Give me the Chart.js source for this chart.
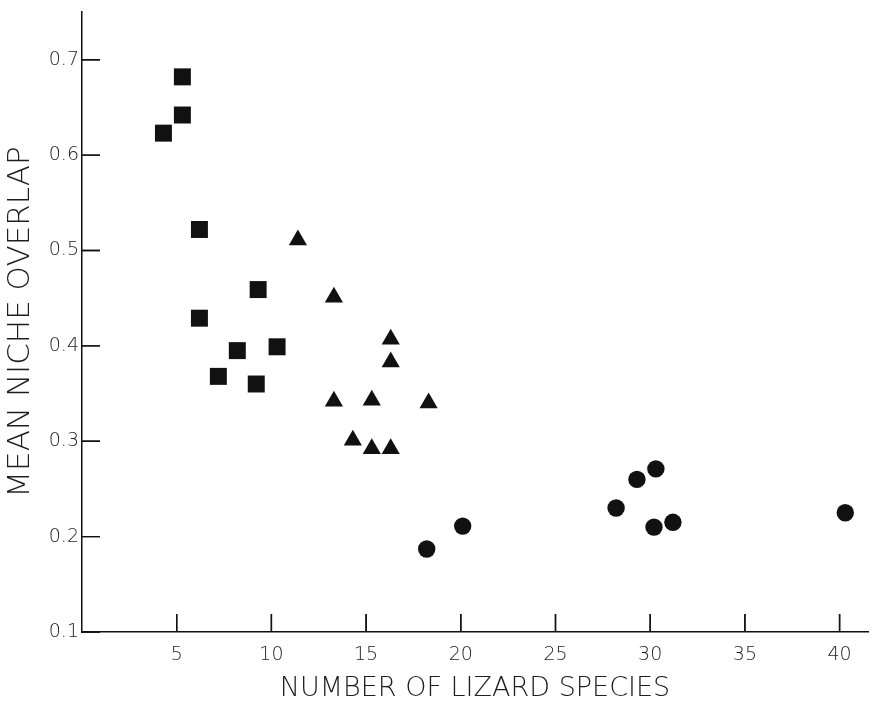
<!DOCTYPE html>
<html>
<head>
<meta charset="utf-8">
<title>Mean niche overlap vs number of lizard species</title>
<script src="https://cdn.jsdelivr.net/npm/chart.js@4.4.1/dist/chart.umd.min.js"></script>
<style>
	body { margin: 0; background: #fff; }
	#wrap { position: relative; width: 880px; height: 706px; }
	#tickLayer { position: absolute; left: 0; top: 0; pointer-events: none; }
</style>
</head>
<body>
<div id="wrap">
	<canvas id="overlapChart" width="880" height="706"></canvas>
	<canvas id="tickLayer" width="880" height="706"></canvas>
</div>
<script>
// squares
var squareX = [5.3, 5.3, 4.3, 6.2, 9.3, 6.2, 8.2, 10.3, 7.2, 9.2];
var squareY = [0.682, 0.642, 0.623, 0.522, 0.459, 0.429, 0.395, 0.399, 0.368, 0.360];
// triangles
var triangleX = [11.4, 13.3, 16.3, 16.3, 13.3, 15.3, 18.3, 14.3, 15.3, 16.3];
var triangleY = [0.511, 0.451, 0.407, 0.383, 0.342, 0.343, 0.340, 0.301, 0.292, 0.292];
// circles
var circleX = [18.2, 20.1, 28.2, 29.3, 30.3, 30.2, 31.2, 40.3];
var circleY = [0.187, 0.211, 0.230, 0.260, 0.271, 0.210, 0.215, 0.225];

var xTicks = [5, 10, 15, 20, 25, 30, 35, 40];
var yTicks = [0.1, 0.2, 0.3, 0.4, 0.5, 0.6, 0.7];

var inkColor = '#111';
var labelColor = '#1e1e1e';
var fontFamily = "'DejaVu Sans', sans-serif";

function toPoints(xs, ys) {
	return xs.map(function(x, i) {
		return { x: x, y: ys[i] };
	});
}

function strokeTicks(ctx, chart) {
	var area = chart.chartArea;
	var len = 18;
	ctx.save();
	ctx.strokeStyle = inkColor;
	ctx.lineWidth = 1.4;
	ctx.beginPath();
	chart.scales.x.ticks.forEach(function(t) {
		var px = chart.scales.x.getPixelForValue(t.value);
		ctx.moveTo(px, area.bottom);
		ctx.lineTo(px, area.bottom - len);
	});
	chart.scales.y.ticks.forEach(function(t) {
		var py = chart.scales.y.getPixelForValue(t.value);
		ctx.moveTo(area.left, py);
		ctx.lineTo(area.left + len, py);
	});
	ctx.stroke();
	ctx.restore();
}

// the ticks of the original point into the plot; drawn on a layer over the chart
var innerTicks = {
	id: 'innerTicks',
	afterDraw: function(chart) {
		var layer = document.getElementById('tickLayer');
		var lctx = layer.getContext('2d');
		lctx.clearRect(0, 0, layer.width, layer.height);
		strokeTicks(lctx, chart);
		strokeTicks(chart.ctx, chart);
	}
};

function drawChart() {
	var ctx = document.getElementById('overlapChart').getContext('2d');
	var chart = new Chart(ctx, {
		type: 'scatter',
		data: {
			datasets: [{
				label: 'squares',
				data: toPoints(squareX, squareY),
				pointStyle: 'rect',
				pointRadius: 12,
				backgroundColor: inkColor,
				borderColor: inkColor,
				borderWidth: 0
			}, {
				label: 'triangles',
				data: toPoints(triangleX, triangleY),
				pointStyle: 'triangle',
				pointRadius: 10.5,
				backgroundColor: inkColor,
				borderColor: inkColor,
				borderWidth: 0
			}, {
				label: 'circles',
				data: toPoints(circleX, circleY),
				pointStyle: 'circle',
				pointRadius: 8.7,
				backgroundColor: inkColor,
				borderColor: inkColor,
				borderWidth: 0
			}]
		},
		options: {
			responsive: false,
			animation: false,
			layout: { padding: { top: 8, right: 12, left: 0, bottom: 0 } },
			plugins: {
				legend: { display: false },
				tooltip: { enabled: false }
			},
			scales: {
				x: {
					type: 'linear',
					min: 0,
					max: 41.5,
					grid: { display: false, drawTicks: false },
					border: { display: true, color: inkColor, width: 1.5 },
					afterBuildTicks: function(scale) {
						scale.ticks = xTicks.map(function(v) { return { value: v }; });
					},
					afterFit: function(scale) {
						scale.height = 74;
						scale.paddingLeft = 0;
						scale.paddingRight = 0;
					},
					ticks: {
						padding: 12,
						color: labelColor,
						font: { family: fontFamily, size: 19, weight: 200 },
						callback: function(v) { return String(v); }
					},
					title: {
						display: true,
						text: 'NUMBER OF LIZARD SPECIES',
						color: labelColor,
						padding: { top: 0, bottom: 1 },
						font: { family: fontFamily, size: 27, weight: 200 }
					}
				},
				y: {
					type: 'linear',
					min: 0.1,
					max: 0.75,
					grid: { display: false, drawTicks: false },
					border: { display: true, color: inkColor, width: 1.5 },
					afterBuildTicks: function(scale) {
						scale.ticks = yTicks.map(function(v) { return { value: v }; });
					},
					afterFit: function(scale) {
						scale.width = 82;
						scale.paddingTop = 0;
						scale.paddingBottom = 0;
					},
					ticks: {
						padding: 3,
						color: labelColor,
						font: { family: fontFamily, size: 19, weight: 200 },
						callback: function(v) { return v.toFixed(1); }
					},
					title: {
						display: true,
						text: 'MEAN NICHE OVERLAP',
						color: labelColor,
						padding: { top: 2, bottom: 0 },
						font: { family: fontFamily, size: 31, weight: 200 }
					}
				}
			}
		},
		plugins: [innerTicks]
	});
}

drawChart();
</script>
</body>
</html>
